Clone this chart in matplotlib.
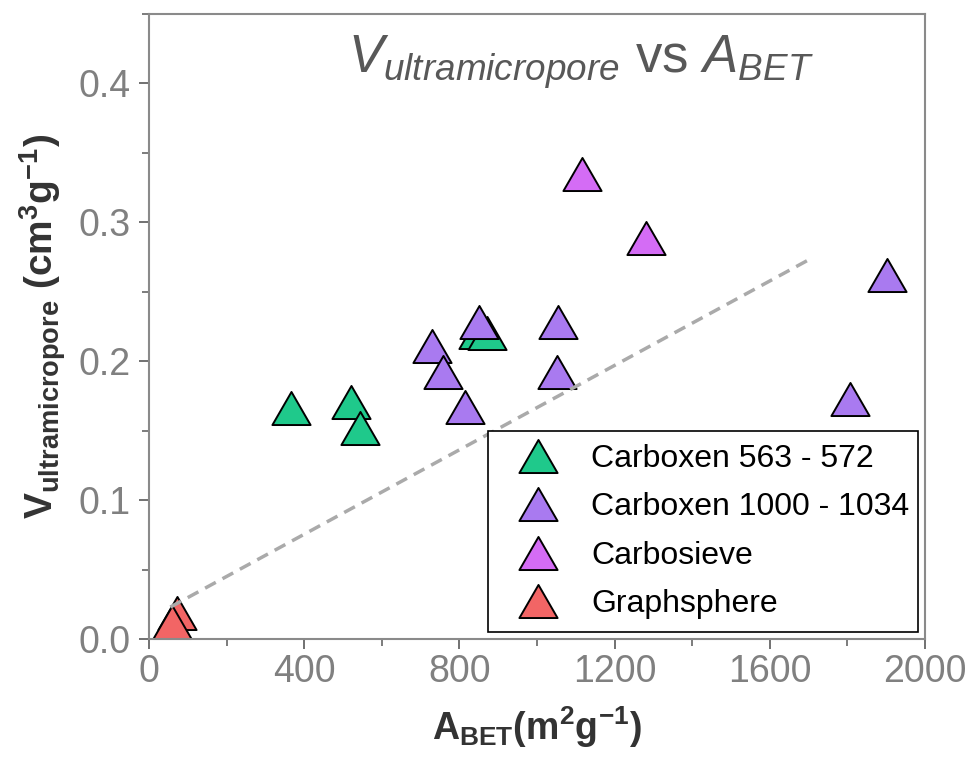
import matplotlib
matplotlib.use("Agg")
import matplotlib.pyplot as plt
from matplotlib.path import Path
from matplotlib.ticker import MultipleLocator

# ---- data ----
carboxen563_x = [366, 520, 544, 847, 872]
carboxen563_y = [0.166, 0.171, 0.152, 0.221, 0.220]

carboxen1000_x = [730, 759, 814, 850, 1054, 1051, 1903, 1807]
carboxen1000_y = [0.211, 0.192, 0.167, 0.228, 0.228, 0.192, 0.262, 0.173]

carbosieve_x = [1116, 1281]
carbosieve_y = [0.335, 0.289]

graphsphere_x = [73, 59]
graphsphere_y = [0.019, 0.012]

fit_x = [55, 1700]
fit_y = [0.023, 0.273]

series_names = ["Carboxen 563 - 572", "Carboxen 1000 - 1034", "Carbosieve", "Graphsphere"]
series_colors = ["#1fc98b", "#a97af0", "#d46cf5", "#f26565"]

x_ticks = [0, 400, 800, 1200, 1600, 2000]
y_ticks = [0.0, 0.1, 0.2, 0.3, 0.4]

# ---- style ----
plt.rcParams['font.family'] = ['Liberation Sans', 'DejaVu Sans']
plt.rcParams['mathtext.fontset'] = 'custom'
plt.rcParams['mathtext.rm'] = 'Liberation Sans'
plt.rcParams['mathtext.it'] = 'Liberation Sans:italic'
plt.rcParams['mathtext.bf'] = 'Liberation Sans:bold'
plt.rcParams['mathtext.default'] = 'bf'

tri = Path([(0, 0.433), (-0.5, -0.433), (0.5, -0.433), (0, 0.433)],
           [Path.MOVETO, Path.LINETO, Path.LINETO, Path.CLOSEPOLY])

fig = plt.figure(figsize=(9.7, 7.7), dpi=100)
ax = fig.add_axes([0.1536, 0.1701, 0.8, 0.8117])

ms = 27.5
datasets = [(carboxen563_x, carboxen563_y), (carboxen1000_x, carboxen1000_y),
            (carbosieve_x, carbosieve_y), (graphsphere_x, graphsphere_y)]
for (xs, ys), name, col in zip(datasets, series_names, series_colors):
    ax.plot(xs, ys, linestyle='none', marker=tri, markersize=ms,
            markerfacecolor=col, markeredgecolor='black', markeredgewidth=1.4,
            label=name, clip_on=False, zorder=2)

ax.plot(fit_x, fit_y, linestyle=(0, (3.5, 2.2)), color='#aaaaaa', linewidth=2.5, zorder=3)

ax.set_xlim(0, 2000)
ax.set_ylim(0, 0.45)
ax.set_xticks(x_ticks)
ax.set_yticks(y_ticks)
ax.set_xticklabels([str(v) for v in x_ticks])
ax.set_yticklabels([f"{v:.1f}" for v in y_ticks])
ax.xaxis.set_minor_locator(MultipleLocator(200))
ax.yaxis.set_minor_locator(MultipleLocator(0.05))

for s in ax.spines.values():
    s.set_color('#8a8a8a')
    s.set_linewidth(1.5)

ax.tick_params(axis='both', which='major', direction='out', length=7, width=1.3,
               color='#666666', labelsize=27, labelcolor='#808080')
ax.tick_params(axis='both', which='minor', direction='out', length=5, width=1.2,
               color='#666666')
ax.tick_params(axis='y', which='major', pad=6)
ax.tick_params(axis='x', which='major', pad=4)
ax.tick_params(top=False, right=False, which='both')

ax.set_xlabel(r"$A_{BET}$(m$^{2}$g$^{-1}$)", fontsize=27, fontweight='bold',
              color='#333333', labelpad=10)
ax.set_ylabel(r"$V_{ultramicropore}$ (cm$^{3}$g$^{-1}$)", fontsize=28, fontweight='bold',
              color='#333333', labelpad=8)

ax.text(0.556, 0.906, r"$\mathit{V}_{\mathit{ultramicropore}}$ vs $\mathit{A}_{\mathit{BET}}$",
        transform=ax.transAxes, ha='center', va='baseline', fontsize=38,
        color='#585858', fontweight='normal')

leg = ax.legend(loc='lower left', bbox_to_anchor=(0.437, 0.011, 0.554, 0.32),
                mode='expand', borderaxespad=0, fontsize=23, frameon=True,
                fancybox=False, edgecolor='black', borderpad=0.4,
                handlelength=2.3, handletextpad=0.53, labelspacing=0.58)
leg.get_frame().set_linewidth(1.2)
leg.get_frame().set_alpha(None)
leg.get_frame().set_facecolor('white')
leg.set_zorder(5)

fig.savefig("out.png", dpi=100)
